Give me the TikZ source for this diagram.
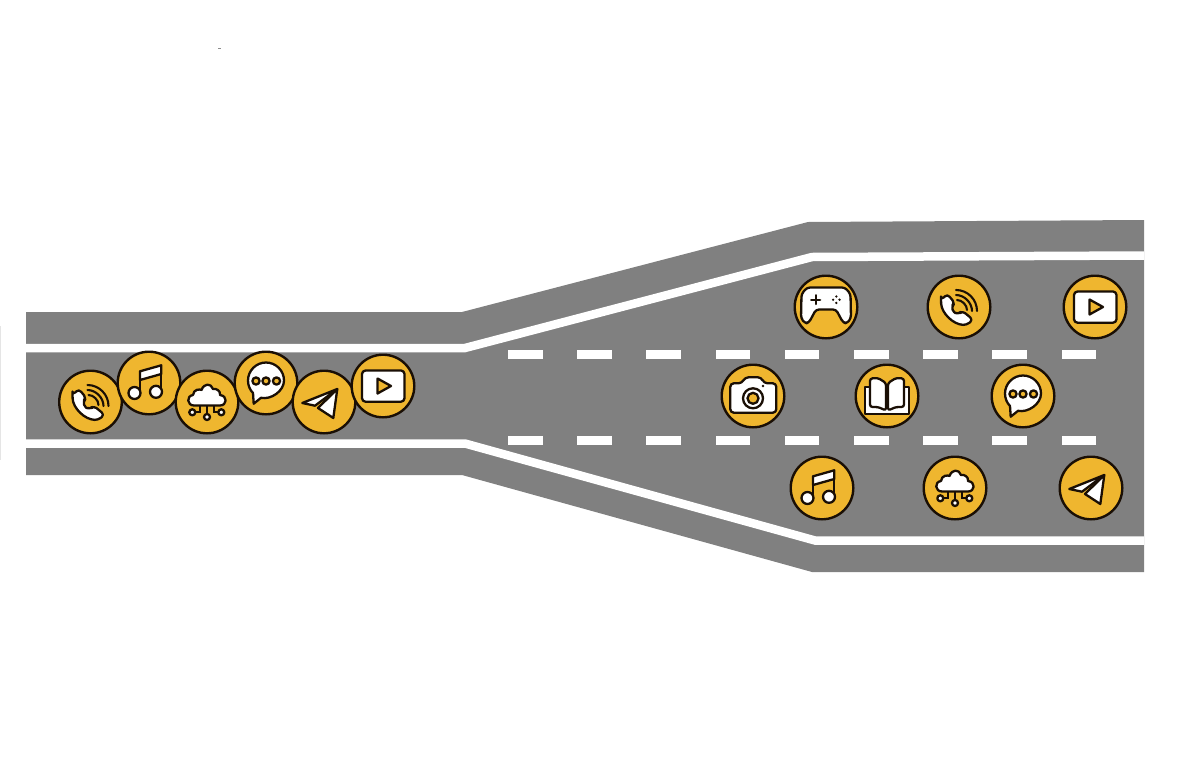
\documentclass[tikz,border=0pt]{standalone}
\usepackage{xcolor}
\usepackage{tikz}
\definecolor{roadgray}{HTML}{808080}
\definecolor{badgeyellow}{HTML}{EFB62F}
\definecolor{inkdark}{HTML}{1A0F05}

\begin{document}
\begin{tikzpicture}[
  x=1pt, y=-1pt,
  road/.style={fill=roadgray, draw=none},
  edgeline/.style={draw=white, line width=8.5pt, line join=miter},
  lanedash/.style={fill=white, draw=none},
  speck/.style={fill=black!45, draw=none},
  badge/.style={circle, draw=inkdark, fill=badgeyellow, line width=2.4pt,
                minimum size=62.6pt, inner sep=0pt},
  ink/.style={draw=inkdark, fill=white, line width=2.3pt, line join=round, line cap=round},
  inkfill/.style={ink, fill=badgeyellow},
  inkline/.style={draw=inkdark, line width=2.1pt, line cap=round},
  phone/.pic={
    \path[ink, rounded corners=3.5pt] (-18,-7) -- (-11.7,-13) -- (-4.2,-4) -- (-7.5,-0.5)
      .. controls (-6,4) and (-4,6) .. (-0.5,7.2) -- (3.3,3.8) -- (14,12.7) -- (7.7,18)
      .. controls (-6,17.5) and (-17.5,6) .. (-18,-7) -- cycle;
    \draw[inkline] (-3,-17) .. controls (8.6,-17) and (18,-7.6) .. (18,4);
    \draw[inkline] (-3,-12) .. controls (5.3,-12) and (13,-4.3) .. (13,4);
    \draw[inkline] (-2,-7) .. controls (3,-7) and (8,-2) .. (8,3);
  },
  note/.pic={
    \path[ink] (-9,-11.7) -- (12.3,-17.7) -- (12.3,-9) -- (-9,-3) -- cycle;
    \draw[inkline] (-9,10) -- (-9,-11.7);
    \draw[inkline] (12.3,8) -- (12.3,-17.7);
    \path[ink] (-14.5,10) circle[radius=6pt];
    \path[ink] (7,8.8) circle[radius=6pt];
  },
  cloud/.pic={
    \draw[inkline] (0,3) -- (0,12);
    \draw[inkline] (-7,3) -- (-7,10.3) -- (-12,10.3);
    \draw[inkline] (7,3) -- (7,10.3) -- (12,10.3);
    \path[ink] (0,15) circle[radius=3pt];
    \path[ink] (-14.7,10.3) circle[radius=3pt];
    \path[ink] (14.3,10.3) circle[radius=3pt];
    \path[ink] (-13,3.5) .. controls (-20,3.5) and (-21,-6) .. (-14,-7)
      .. controls (-13.5,-13) and (-7,-13) .. (-5.5,-12)
      .. controls (-3,-19) and (4,-19) .. (6,-13)
      .. controls (9,-14) and (14,-11) .. (13,-7)
      .. controls (21,-6) and (20,3.5) .. (13,3.5) -- cycle;
  },
  bubble/.pic={
    \path[ink] (-12.3,20.7) -- (-5,14.8) .. controls (5,17) and (18,8) .. (18,-2.5)
      .. controls (18,-12.4) and (9.9,-20.5) .. (0,-20.5)
      .. controls (-9.9,-20.5) and (-18,-12.4) .. (-18,-2.5)
      .. controls (-18,2.5) and (-16,7) .. (-13,10) -- cycle;
    \foreach \dotx in {-10,0,10.5}
      \path[inkfill] (\dotx,-2) circle[radius=3.6pt];
  },
  plane/.pic={
    \path[ink] (13.3,-13) -- (-21.7,1) -- (-9,3.7) -- cycle;
    \path[ink] (13.3,-13) -- (-6,6) -- (9.3,16) -- cycle;
  },
  video/.pic={
    \path[ink, rounded corners=3.5pt] (-21,-15.5) rectangle (21.5,15.7);
    \path[inkfill] (-5.5,-7.5) -- (8,0) -- (-5.5,7.5) -- cycle;
  },
  gamepad/.pic={
    \path[ink, rounded corners=3pt] (-19,-19.5) -- (19,-19.5) -- (24.5,-13) -- (25,11)
      -- (21,16.5) -- (17,15.5) -- (10,2.5) -- (-10,2.5) -- (-17,15.5) -- (-21,16.5)
      -- (-25,11) -- (-24.5,-13) -- cycle;
    \draw[inkline] (-14.8,-7.3) -- (-5.8,-7.3);
    \draw[inkline] (-10.3,-11.8) -- (-10.3,-2.8);
    \foreach \dx/\dy in {3.2/0,-3.2/0,0/3.2,0/-3.2}
      \fill[inkdark] (10.3+\dx,-7.3+\dy) circle[radius=1.3pt];
  },
  camera/.pic={
    \path[ink, rounded corners=3.5pt] (-22.7,-12.7) -- (-11,-12.7) -- (-8,-18.7) -- (8.3,-18.7)
      -- (11,-12.7) -- (23.3,-12.7) -- (23.3,16.7) -- (-22.7,16.7) -- cycle;
    \path[ink] (0,2.3) circle[radius=10pt];
    \path[inkfill] (0,2.3) circle[radius=5.5pt];
    \fill[inkdark] (10,-10) circle[radius=1.4pt];
  },
  book/.pic={
    \path[ink] (-21.7,-9) -- (21.7,-9) -- (21.7,18) -- (-21.7,18) -- cycle;
    \path[ink, rounded corners=2.5pt] (-17,-17.5) -- (-9,-18) -- (-1,-13) -- (-1,14.5)
      -- (-9,11) -- (-17,11) -- cycle;
    \path[ink, rounded corners=2.5pt] (17,-17.5) -- (9,-18) -- (1,-13) -- (1,14.5)
      -- (9,11) -- (17,11) -- cycle;
  }
]
\useasboundingbox (0,0) rectangle (1180,779);

% stray marks in the scan
\path[speck] (218,47.5) rectangle (221,48.5);
\path[fill=black!10] (0,326) rectangle (1,460);

% road surface and edge lines
\path[road] (26,312) -- (462,312) -- (808,222) -- (1144,220) -- (1144,572)
  -- (812,572) -- (462,475) -- (26,475) -- cycle;
\draw[edgeline] (26,348) -- (465,348) -- (812,257) -- (1144,255.5);
\draw[edgeline] (26,443.5) -- (465,443.5) -- (815,540.5) -- (1144,540.5);

% lane markings
\foreach \dashx in {0,...,8} {
  \path[lanedash] (508+69.2*\dashx,350) rectangle ++(34.5,8.7);
  \path[lanedash] (508+69.2*\dashx,436) rectangle ++(34.5,8.7);
}

% queue in the narrow part
\node[badge] (q1) at (90.5,402) {}; \pic at (q1) {phone};
\node[badge] (q2) at (149,383) {}; \pic at (q2) {note};
\node[badge] (q3) at (207,402) {}; \pic at (q3) {cloud};
\node[badge] (q4) at (266,383) {}; \pic at (q4) {bubble};
\node[badge] (q5) at (324,402) {}; \pic at (q5) {plane};
\node[badge] (q6) at (383,386) {}; \pic at (q6) {video};

% upper lane
\node[badge] (u1) at (826,307) {}; \pic at (u1) {gamepad};
\node[badge] (u2) at (959,307) {}; \pic at (u2) {phone};
\node[badge] (u3) at (1095,307) {}; \pic at (u3) {video};
% middle lane
\node[badge] (m1) at (753,396) {}; \pic at (m1) {camera};
\node[badge] (m2) at (887,396) {}; \pic at (m2) {book};
\node[badge] (m3) at (1023,396) {}; \pic at (m3) {bubble};
% lower lane
\node[badge] (l1) at (822,488) {}; \pic at (l1) {note};
\node[badge] (l2) at (955,488) {}; \pic at (l2) {cloud};
\node[badge] (l3) at (1091,488) {}; \pic at (l3) {plane};
\end{tikzpicture}
\end{document}
